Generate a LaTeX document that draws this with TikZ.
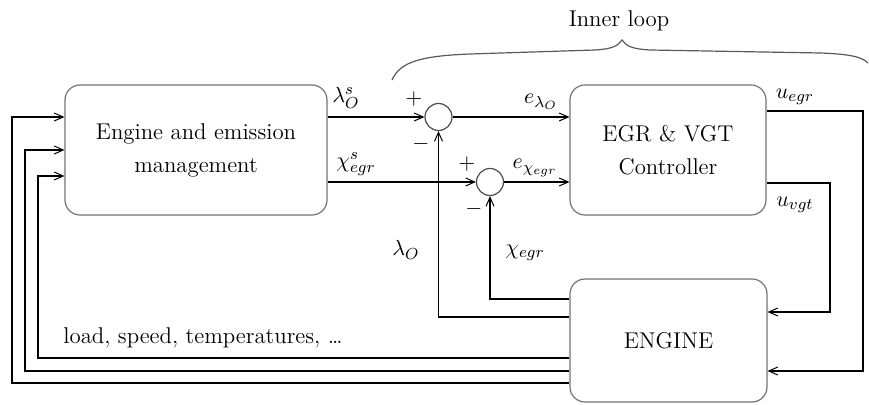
\documentclass[tikz,border=0pt]{standalone}
\usetikzlibrary{arrows.meta}
\begin{document}
\begin{tikzpicture}[x=0.5pt,y=-0.5pt,
  font=\fontsize{11.4}{16.5}\selectfont,
  blk/.style={draw=black!55,line width=0.6pt,rounded corners=7.5pt,align=center,inner sep=0pt},
  sumc/.style={draw=black!70,line width=0.6pt,circle,minimum size=13.5pt,inner sep=0pt},
  conn/.style={line width=0.65pt},
  arr/.style={conn,-{Straight Barb[length=4.5pt,width=4pt,line width=0.5pt]}},
  lab/.style={inner sep=0pt}]
\useasboundingbox (0,0) rectangle (869,405);
% blocks
\node[blk,minimum width=131pt,minimum height=65pt] (lb) at (196,150) {Engine and emission\\management};
\node[blk,minimum width=98pt,minimum height=65pt] (egr) at (668,150) {EGR \& VGT\\Controller};
\node[blk,minimum width=98.5pt,minimum height=61.5pt] (eng) at (668.5,340.5) {ENGINE};
\node[sumc] (c1) at (438.5,117) {};
\node[sumc] (c2) at (490,182) {};
% forward paths
\draw[arr] (lb.east |- c1) -- (c1);
\draw[arr] (c1) -- (egr.west |- c1);
\draw[arr] (lb.east |- c2) -- (c2);
\draw[arr] (c2) -- (egr.west |- c2);
% inner feedback
\draw[arr] (eng.west |- 0,317) -| (c1);
\draw[arr] (eng.west |- 0,299) -| (c2);
% controller outputs
\coordinate (r1) at (863,111);
\coordinate (r2) at (830,183);
\draw[arr] (egr.east |- r1) -- (r1) |- (eng.east |- 0,371);
\draw[arr] (egr.east |- r2) -- (r2) |- (eng.east |- 0,312);
% outer feedback
\coordinate (f1) at (38,358);
\coordinate (f2) at (25,371);
\coordinate (f3) at (12,383);
\draw[arr] (eng.west |- f1) -- (f1) |- (lb.west |- 0,176);
\draw[arr] (eng.west |- f2) -- (f2) |- (lb.west |- 0,150);
\draw[arr] (eng.west |- f3) -- (f3) |- (lb.west |- 0,117);
% labels
\node[lab] (l1) at (346,98) {$\lambda_O^s$};
\node[lab] (l2) at (356,164) {$\chi_{egr}^s$};
\node[lab] (p1) at (414,99) {$+$};
\node[lab] (m1) at (421,144) {$-$};
\node[lab] (p2) at (467,164) {$+$};
\node[lab] (m2) at (474,209) {$-$};
\node[lab] (l3) at (541,102) {$e_{\lambda_O}$};
\node[lab] (l4) at (535,168) {$e_{\chi_{egr}}$};
\node[lab] (l5) at (406,250) {$\lambda_O$};
\node[lab] (l6) at (525,253) {$\chi_{egr}$};
\node[lab] (l7) at (795,97) {$u_{egr}$};
\node[lab] (l8) at (795,205) {$u_{vgt}$};
\node[lab,anchor=west] (l9) at (63,338) {load, speed, temperatures, \dots};
\node[lab] (il) at (619,21) {Inner loop};
% brace
\draw[black!65,line width=0.6pt] (392,80) .. controls (400,62) and (420,56) .. (470,54)
  -- (595,50) .. controls (612,49) and (618,46) .. (622,40)
  .. controls (626,46) and (632,49) .. (650,50)
  -- (820,53) .. controls (850,54) and (862,57) .. (868,63);
\end{tikzpicture}
\end{document}
